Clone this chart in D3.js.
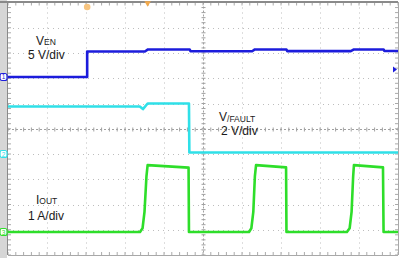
<!DOCTYPE html>
<html><head><meta charset="utf-8">
<script src="https://cdn.jsdelivr.net/npm/d3@7"></script>
<style>html,body{margin:0;padding:0;background:#fff;}svg{display:block;}</style>
</head><body>
<svg id="c" width="404" height="258"></svg>
<script>
// Time in horizontal divisions (0..10)
const venTime   = [0, 2.03, 2.03, 3.51, 3.59, 4.66, 4.68, 6.26, 6.33, 7.14, 7.16, 8.79, 8.87, 9.63, 9.65, 10];
const venVolts  = [0, 0, 5.05, 5.05, 5.45, 5.45, 5.1, 5.1, 5.45, 5.45, 5.12, 5.12, 5.45, 5.45, 5.15, 5.15];

const faultTime  = [0, 3.38, 3.46, 3.58, 4.64, 4.65, 10];
const faultVolts = [3.76, 3.76, 3.56, 4.0, 4.0, 0.12, 0.12];

const ioutTime = [0, 3.385, 3.45, 3.5, 3.55, 3.58, 4.63, 4.64,
                  6.18, 6.24, 6.29, 6.33, 6.36, 7.13, 7.14,
                  8.69, 8.76, 8.81, 8.85, 8.87, 9.615, 9.63, 10];
const ioutAmps = [0, 0, 0.15, 0.8, 2.2, 2.65, 2.55, 0,
                  0, 0.15, 0.8, 2.2, 2.65, 2.56, 0,
                  0, 0.15, 0.8, 2.2, 2.65, 2.56, 0, 0];

const channels = [
  {name: "V", sub: "EN",     scaleText: "5 V/div", perDiv: 5, offset: 2.05, t: venTime,   v: venVolts,  color: "#1c1cdc", num: "1"},
  {name: "V", sub: "/FAULT", scaleText: "2 V/div", perDiv: 2, offset: -1.0, t: faultTime, v: faultVolts, color: "#2fe0e8", num: "2"},
  {name: "I", sub: "OUT",    scaleText: "1 A/div", perDiv: 1, offset: -4.09, t: ioutTime, v: ioutAmps,  color: "#2ede2a", num: "3"}
];

const svg = d3.select("#c");
const L = 8, R = 398, T = 2.5, B = 255;
const x = d3.scaleLinear().domain([0, 10]).range([L, R]);
const y = d3.scaleLinear().domain([5, -5]).range([T, B]);

// left strip
svg.append("rect").attr("x", 0).attr("y", 0).attr("width", 7).attr("height", 258).attr("fill", "#d6d6d6");

// grid
const g = svg.append("g");
const xdivs = d3.range(1, 10).filter(d => d !== 5);
const ydivs = d3.range(-4, 5).filter(d => d !== 0);
g.selectAll(".vg").data(xdivs).join("line")
  .attr("x1", d => x(d) + 0.5).attr("x2", d => x(d) + 0.5).attr("y1", T).attr("y2", B)
  .attr("stroke", "#bdbdbd").attr("stroke-width", 1).attr("stroke-dasharray", "1 4");
g.selectAll(".hg").data(ydivs).join("line")
  .attr("y1", d => Math.round(y(d)) + 0.5).attr("y2", d => Math.round(y(d)) + 0.5).attr("x1", L).attr("x2", R)
  .attr("stroke", "#bdbdbd").attr("stroke-width", 1).attr("stroke-dasharray", "1 4");
// center axes
const cy = Math.round(y(0)) + 0.5, cx = Math.round(x(5)) + 0.5;
g.append("line").attr("x1", L).attr("x2", R).attr("y1", cy).attr("y2", cy)
  .attr("stroke", "#a0a0a0").attr("stroke-dasharray", "2 2");
g.append("line").attr("y1", T).attr("y2", B).attr("x1", cx).attr("x2", cx)
  .attr("stroke", "#a0a0a0").attr("stroke-dasharray", "2 2");
const minorX = d3.range(0, 50.01, 1).map(i => i / 5);
const minorY = d3.range(-25, 25.01, 1).map(i => i / 5);
g.selectAll(".tx").data(minorX).join("line")
  .attr("x1", d => x(d)).attr("x2", d => x(d)).attr("y1", cy - 2).attr("y2", cy + 2)
  .attr("stroke", "#a0a0a0");
g.selectAll(".ty").data(minorY).join("line")
  .attr("y1", d => y(d)).attr("y2", d => y(d)).attr("x1", cx - 2).attr("x2", cx + 2)
  .attr("stroke", "#a0a0a0");
// border ticks
g.selectAll(".bt").data(minorX).join("line")
  .attr("x1", d => x(d)).attr("x2", d => x(d)).attr("y1", T).attr("y2", T + 3).attr("stroke", "#aaa");
g.selectAll(".bb").data(minorX).join("line")
  .attr("x1", d => x(d)).attr("x2", d => x(d)).attr("y1", B - 3).attr("y2", B).attr("stroke", "#aaa");
g.selectAll(".bl").data(minorY).join("line")
  .attr("y1", d => y(d)).attr("y2", d => y(d)).attr("x1", L).attr("x2", L + 3).attr("stroke", "#aaa");
g.selectAll(".br").data(minorY).join("line")
  .attr("y1", d => y(d)).attr("y2", d => y(d)).attr("x1", R - 3).attr("x2", R).attr("stroke", "#aaa");
// border
svg.append("line").attr("x1", 0).attr("x2", R).attr("y1", 2).attr("y2", 2).attr("stroke", "#8a8a8a").attr("stroke-width", 2);
svg.append("line").attr("x1", 7.5).attr("x2", 7.5).attr("y1", 2).attr("y2", B).attr("stroke", "#8a8a8a");
svg.append("line").attr("x1", R + 0.5).attr("x2", R + 0.5).attr("y1", 2).attr("y2", B).attr("stroke", "#a8a8a8");
svg.append("line").attr("x1", L).attr("x2", R).attr("y1", B + 0.5).attr("y2", B + 0.5).attr("stroke", "#a8a8a8");

// traces
channels.forEach(ch => {
  const pts = ch.t.map((t, i) => [t, ch.v[i] / ch.perDiv + ch.offset]);
  const line = d3.line().x(d => x(d[0])).y(d => y(d[1]));
  svg.append("path").datum(pts).attr("d", line)
    .attr("fill", "none").attr("stroke", ch.color).attr("stroke-width", 2.6)
    .attr("stroke-linejoin", "round");
  // ground marker
  const gy = y(ch.offset);
  svg.append("rect").attr("x", 0).attr("y", gy - 3.5).attr("width", 7).attr("height", 7).attr("rx", 2)
    .attr("fill", "#fff").attr("stroke", ch.color).attr("stroke-width", 1.2);
  svg.append("text").attr("x", 3.5).attr("y", gy + 2.5).attr("text-anchor", "middle")
    .attr("font-family", "Liberation Sans, Arial, sans-serif").attr("font-size", 6.5).attr("fill", ch.color)
    .text(ch.num);
});

// trigger markers
svg.append("circle").attr("cx", x(2.03)).attr("cy", 7).attr("r", 3.3).attr("fill", "#f7c47f");
svg.append("path").attr("d", d3.symbol(d3.symbolTriangle, 18)()).attr("transform", `translate(${x(3.58)},3) rotate(180)`).attr("fill", "#f2a94c");
svg.append("path").attr("d", "M0,0 L-4,-3 L-4,3 Z").attr("transform", `translate(${R - 1},${y(channels[0].offset + 0.3)})`).attr("fill", channels[0].color);

// labels
const labels = [
  {ch: 0, x: 36, y1: 44.5, x2: 28, y2: 58.5},
  {ch: 1, x: 219, y1: 121, x2: 221, y2: 135},
  {ch: 2, x: 36, y1: 203.5, x2: 28, y2: 219.5}
];
labels.forEach(lb => {
  const ch = channels[lb.ch];
  const t = svg.append("text").attr("x", lb.x).attr("y", lb.y1)
    .attr("font-family", "Liberation Sans, Arial, sans-serif").attr("font-size", 12).attr("fill", "#1a1a1a");
  t.append("tspan").text(ch.name);
  t.append("tspan").attr("font-size", 8.5).attr("dy", 0.5).text(ch.sub);
  svg.append("text").attr("x", lb.x2).attr("y", lb.y2)
    .attr("font-family", "Liberation Sans, Arial, sans-serif").attr("font-size", 12).attr("fill", "#1a1a1a")
    .text(ch.scaleText);
});
</script>
</body></html>
